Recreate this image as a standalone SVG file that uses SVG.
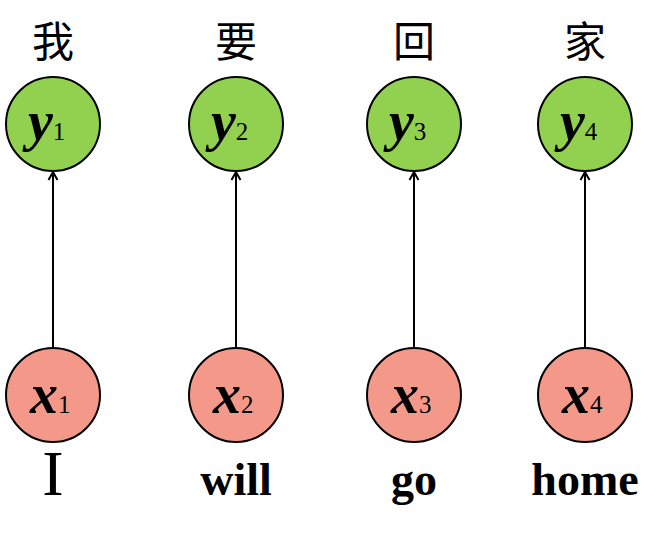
<svg xmlns="http://www.w3.org/2000/svg" width="665" height="542" viewBox="0 0 665 542">
<defs>
<marker id="arr" markerWidth="12" markerHeight="12" refX="10" refY="6" orient="auto" markerUnits="userSpaceOnUse">
<path d="M2,1.5 L10,6 L2,10.5" fill="none" stroke="#000" stroke-width="2"/>
</marker>
</defs>
<style>
.y{fill:#92D050;stroke:#000;stroke-width:2}
.x{fill:#F4988A;stroke:#000;stroke-width:2}
.v{font-family:"Liberation Serif",serif;font-style:italic;font-weight:bold;font-size:56px;fill:#000}
.s{font-family:"Liberation Serif",serif;font-style:normal;font-weight:normal;font-size:25px}
.zh{font-family:"Noto Sans CJK SC",sans-serif;font-size:42px;text-anchor:middle;fill:#000}
.en{font-family:"Liberation Serif",serif;font-weight:bold;font-size:46px;text-anchor:middle;fill:#000}
.c{stroke:#000;stroke-width:2;fill:none}
</style>
<g id="connectors">
<line class="c" x1="53" y1="348" x2="53" y2="172" marker-end="url(#arr)"/>
<line class="c" x1="236" y1="348" x2="236" y2="172" marker-end="url(#arr)"/>
<line class="c" x1="414" y1="348" x2="414" y2="172" marker-end="url(#arr)"/>
<line class="c" x1="585" y1="348" x2="585" y2="172" marker-end="url(#arr)"/>
</g>
<g id="y1"><text class="zh" x="53" y="57">我</text><circle class="y" cx="53" cy="124" r="47"/><text class="v" x="28" y="140">y<tspan class="s">1</tspan></text></g>
<g id="y2"><text class="zh" x="236" y="57">要</text><circle class="y" cx="236" cy="124" r="47"/><text class="v" x="211" y="140">y<tspan class="s">2</tspan></text></g>
<g id="y3"><text class="zh" x="414" y="57">回</text><circle class="y" cx="414" cy="124" r="47"/><text class="v" x="389" y="140">y<tspan class="s">3</tspan></text></g>
<g id="y4"><text class="zh" x="585" y="57">家</text><circle class="y" cx="585" cy="124" r="47"/><text class="v" x="560" y="140">y<tspan class="s">4</tspan></text></g>
<g id="x1"><circle class="x" cx="53" cy="395" r="47"/><text class="v" x="30" y="413">x<tspan class="s">1</tspan></text><text x="53" y="495" font-family="Liberation Serif,serif" font-size="64" text-anchor="middle">I</text></g>
<g id="x2"><circle class="x" cx="236" cy="395" r="47"/><text class="v" x="213" y="413">x<tspan class="s">2</tspan></text><text class="en" x="236" y="495">will</text></g>
<g id="x3"><circle class="x" cx="414" cy="395" r="47"/><text class="v" x="391" y="413">x<tspan class="s">3</tspan></text><text class="en" x="414" y="495">go</text></g>
<g id="x4"><circle class="x" cx="585" cy="395" r="47"/><text class="v" x="562" y="413">x<tspan class="s">4</tspan></text><text class="en" x="585" y="495">home</text></g>
</svg>
